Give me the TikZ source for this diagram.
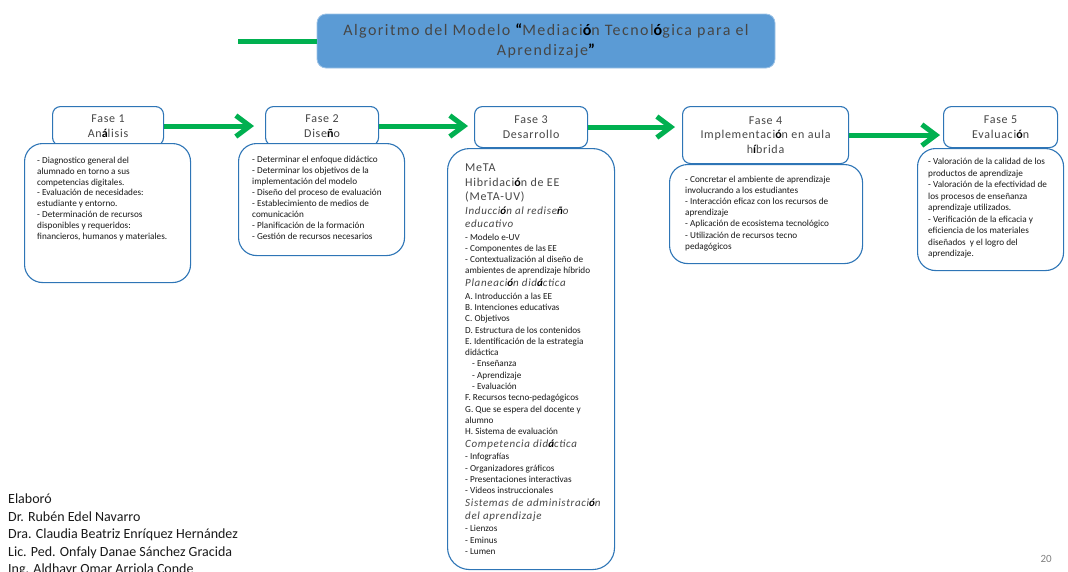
\documentclass[tikz,border=0pt]{standalone}
\usepackage{fontspec}
\setmainfont{Carlito}
\newfontfamily\hfont[LetterSpace=6]{Carlito}
\newfontfamily\ttlfont[LetterSpace=9]{Carlito}
\usetikzlibrary{arrows.meta}
\definecolor{boxblue}{RGB}{46,117,182}
\definecolor{titlefill}{RGB}{91,155,213}
\definecolor{titleline}{RGB}{157,195,230}
\definecolor{arrgreen}{RGB}{0,176,80}
\definecolor{hdrtext}{RGB}{70,70,70}
\definecolor{bodytext}{RGB}{25,25,25}
\definecolor{pagenum}{RGB}{128,128,128}
\newcommand{\blk}[1]{{\bfseries\color{black}#1}}
\newcommand{\mtital}[1]{{\hfont\itshape\fontsize{11}{12.7}\selectfont\color{hdrtext}#1\par}}
\newcommand{\mtbody}[1]{{\fontsize{9.2}{11.3}\selectfont\vspace{1.2pt}#1\par}}
\begin{document}
\begin{tikzpicture}[x=1pt,y=-1pt,
  hdr/.style={draw=boxblue, line width=1.1pt, fill=white, rounded corners=8pt, inner sep=0pt,
    anchor=north west, align=center, font=\hfont\fontsize{12}{14.5}\selectfont, text=hdrtext},
  bodybox/.style={draw=boxblue, line width=1.1pt, fill=white, rounded corners=18pt,
    anchor=north west, inner sep=0pt},
  txt/.style={anchor=north west, inner sep=0pt, align=left,
    font=\fontsize{9.2}{10.8}\selectfont, text=bodytext},
  flow/.style={draw=arrgreen, line width=5pt, -{Straight Barb[length=14pt,width=21pt]}},
  titlebox/.style={fill=titlefill, draw=titleline, line width=0.8pt, rounded corners=9pt,
    minimum width=458pt, minimum height=54pt, inner sep=0pt, align=center,
    font=\ttlfont\fontsize{16}{20}\selectfont, text=hdrtext}]
\clip (0,0) rectangle (1068,571);
\useasboundingbox (0,0) rectangle (1068,571);

% title
\coordinate (g) at (238,41);
\node[titlebox] (t) at (546,41) {Algoritmo del Modelo \blk{“}Mediaci\blk{ó}n Tecnol\blk{ó}gica para el\\Aprendizaje\blk{”}};
\draw[draw=arrgreen, line width=5pt] (g) -- (t.west);

% headers
\node[hdr, minimum width=111pt, minimum height=39pt] (h1) at (52,106) {Fase 1\\An\blk{á}lisis};
\node[hdr, minimum width=113pt, minimum height=39pt] (h2) at (265,106) {Fase 2\\Dise\blk{ñ}o};
\node[hdr, minimum width=113pt, minimum height=41pt] (h3) at (474,106) {Fase 3\\Desarrollo};
\node[hdr, minimum width=166pt, minimum height=57pt] (h4) at (682,106) {Fase 4\\Implementaci\blk{ó}n en aula\\h\blk{í}brida};
\node[hdr, minimum width=114pt, minimum height=41pt] (h5) at (943,106) {Fase 5\\Evaluaci\blk{ó}n};

% bodies
\node[bodybox, minimum width=166pt, minimum height=139pt] (b1) at (24,143) {};
\node[bodybox, minimum width=166pt, minimum height=112pt] (b2) at (238,143) {};
\node[bodybox, minimum width=167pt, minimum height=421pt, rounded corners=22pt] (b3) at (447,148) {};
\node[bodybox, minimum width=193pt, minimum height=99pt] (b4) at (669,164) {};
\node[bodybox, minimum width=146pt, minimum height=122pt] (b5) at (917,148) {};

% arrows
\draw[flow, shorten >=11pt] (h1.east) -- (h1.east -| h2.west);
\draw[flow, shorten >=6pt] (h2.east) -- (h2.east -| h3.west);
\draw[flow, shorten >=7pt] (h3.east) -- (h3.east -| h4.west);
\draw[flow, shorten >=3pt] (h4.east) -- (h4.east -| h5.west);

% body texts
\node[txt] (x1) at (37,157) {- Diagnostico general del\\alumnado en torno a sus\\competencias digitales.\\- Evaluación de necesidades:\\estudiante y entorno.\\- Determinación de recursos\\disponibles y requeridos:\\financieros, humanos y materiales.};
\node[txt, font=\fontsize{9.2}{11}\selectfont] (x2) at (252,155.5) {- Determinar el enfoque didáctico\\- Determinar los objetivos de la\\implementación del modelo\\- Diseño del proceso de evaluación\\- Establecimiento de medios de\\comunicación\\- Planificación de la formación\\- Gestión de recursos necesarios};
\node[txt, font=\fontsize{9.2}{11.2}\selectfont] (x4) at (685,175.5) {- Concretar el ambiente de aprendizaje\\involucrando a los estudiantes\\- Interacción eficaz con los recursos de\\aprendizaje\\- Aplicación de ecosistema tecnológico\\- Utilización de recursos tecno\\pedagógicos};
\node[txt, font=\fontsize{9.2}{11.5}\selectfont] (x5) at (928,158) {- Valoración de la calidad de los\\productos de aprendizaje\\- Valoración de la efectividad de\\los procesos de enseñanza\\aprendizaje utilizados.\\- Verificación de la eficacia y\\eficiencia de los materiales\\diseñados~ y el logro del\\aprendizaje.};

% Fase 3 content
\node[anchor=north west, inner sep=0pt, align=left, font=\hfont\fontsize{12}{14.5}\selectfont, text=hdrtext] (x3a) at (465,164) {MeTA\\Hibridaci\blk{ó}n de EE\\(MeTA-UV)};
\node[anchor=north west, inner sep=0pt, text width=148pt, text=bodytext] (x3b) at (465,207) {%
\parindent=0pt\parskip=0pt\spaceskip=0pt\xspaceskip=0pt\rightskip=0pt plus 1fil\relax
\mtital{Inducci\blk{ó}n al redise\blk{ñ}o\\educativo}
\mtbody{- Modelo e-UV\\- Componentes de las EE\\- Contextualización al diseño de\\ambientes de aprendizaje híbrido}
\mtital{Planeaci\blk{ó}n did\blk{á}ctica}
\mtbody{A. Introducción a las EE\\B. Intenciones educativas\\C. Objetivos\\D. Estructura de los contenidos\\E. Identificación de la estrategia\\didáctica\\\hspace*{7pt}- Enseñanza\\\hspace*{7pt}- Aprendizaje\\\hspace*{7pt}- Evaluación\\F. Recursos tecno-pedagógicos\\G. Que se espera del docente y\\alumno\\H. Sistema de evaluación}
\mtital{Competencia did\blk{á}ctica}
\mtbody{- Infografías\\- Organizadores gráficos\\- Presentaciones interactivas\\- Videos instruccionales}
\mtital{Sistemas de administraci\blk{ó}n\\del aprendizaje}
\mtbody{- Lienzos\\- Eminus\\- Lumen}};

% footer
\node[anchor=north west, inner sep=0pt, align=left, font=\fontsize{14}{17.5}\selectfont, text=bodytext] (credits) at (8,494) {Elaboró\\Dr. Rubén Edel Navarro\\Dra. Claudia Beatriz Enríquez Hernández\\Lic. Ped. Onfaly Danae Sánchez Gracida\\Ing. Aldhayr Omar Arriola Conde};
\node[anchor=base east, inner sep=0pt, font=\fontsize{11}{13}\selectfont, text=pagenum] (pg) at (1052,562) {20};
\end{tikzpicture}
\end{document}
